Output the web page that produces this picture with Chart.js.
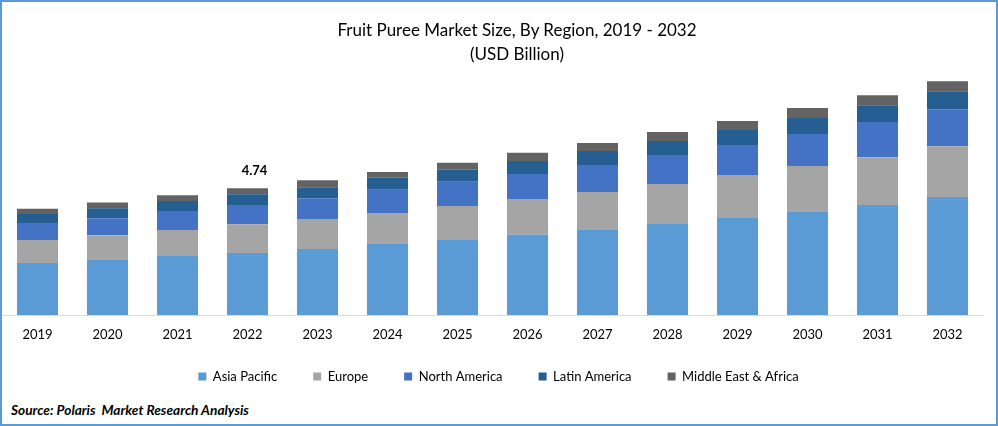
<!DOCTYPE html>
<html>
<head>
<meta charset="utf-8">
<title>Fruit Puree Market Size</title>
<script src="https://cdn.jsdelivr.net/npm/chart.js@4"></script>
<style>
    html, body { margin: 0; padding: 0; background: #fff; }
    #frame { position: relative; width: 998px; height: 426px; overflow: hidden; font-family: Lato, sans-serif; color: #000; }
    #border { position: absolute; inset: 0; border: 2px solid #5B9BD5; box-sizing: border-box; pointer-events: none; }
    canvas { position: absolute; left: 0; top: 0; }
    .title { position: absolute; left: 317px; width: 400px; text-align: center; font-size: 17px; line-height: 24px; white-space: nowrap; }
    #source { position: absolute; left: 11px; top: 402px; font-size: 13.7px; line-height: 16px; font-weight: bold; font-style: italic; white-space: pre; }
</style>
</head>
<body>
<div id="frame">
    <canvas id="chart" width="998" height="399"></canvas>
    <div class="title" style="top:18px">Fruit Puree Market Size, By Region, 2019 - 2032</div>
    <div class="title" style="top:42px">(USD Billion)</div>
    <div id="source">Source: Polaris  Market Research Analysis</div>
    <div id="border"></div>
</div>
<script>
// 数据
const years = ['2019', '2020', '2021', '2022', '2023', '2024', '2025', '2026', '2027', '2028', '2029', '2030', '2031', '2032'];
const asiaPacific = [1.94, 2.05, 2.20, 2.31, 2.46, 2.65, 2.80, 2.99, 3.17, 3.40, 3.62, 3.84, 4.10, 4.40];
const europe = [0.86, 0.93, 0.97, 1.08, 1.12, 1.16, 1.27, 1.34, 1.42, 1.49, 1.60, 1.72, 1.79, 1.90];
const northAmerica = [0.63, 0.63, 0.71, 0.71, 0.78, 0.86, 0.90, 0.93, 1.01, 1.08, 1.12, 1.19, 1.31, 1.38];
const latinAmerica = [0.34, 0.37, 0.37, 0.41, 0.41, 0.45, 0.45, 0.49, 0.52, 0.52, 0.56, 0.60, 0.63, 0.67];
const middleEast = [0.19, 0.22, 0.22, 0.22, 0.26, 0.22, 0.26, 0.30, 0.30, 0.34, 0.34, 0.37, 0.37, 0.37];
const calloutYear = '2022';
const calloutText = '4.74';

const fontFamily = 'Lato, sans-serif';

// 2022 柱顶的数值标注，并微调图例位置
const calloutPlugin = {
    id: 'callout',
    afterLayout(chart) {
        chart.legend.top -= 6;
        chart.legend.left += 6;
        chart.legend.right += 6;
    },
    afterDatasetsDraw(chart) {
        const { ctx, scales } = chart;
        ctx.save();
        ctx.font = `bold 13px ${fontFamily}`;
        ctx.fillStyle = '#000';
        ctx.textAlign = 'center';
        ctx.textBaseline = 'middle';
        ctx.fillText(calloutText, scales.x.getPixelForValue(years.indexOf(calloutYear)) + 7, scales.y.getPixelForValue(4.74) - 17);
        ctx.restore();
    }
};

new Chart(document.getElementById('chart').getContext('2d'), {
    type: 'bar',
    data: {
        labels: years,
        datasets: [
            { label: 'Asia Pacific', data: asiaPacific, backgroundColor: '#5B9BD5' },
            { label: 'Europe', data: europe, backgroundColor: '#A5A5A5' },
            { label: 'North America', data: northAmerica, backgroundColor: '#4472C4' },
            { label: 'Latin America', data: latinAmerica, backgroundColor: '#255E91' },
            { label: 'Middle East & Africa', data: middleEast, backgroundColor: '#636363' }
        ]
    },
    options: {
        responsive: false,
        animation: false,
        devicePixelRatio: 1,
        layout: { padding: { left: 2.5, right: 15.5, top: 60.4, bottom: 0 } },
        datasets: { bar: { barPercentage: 0.586, categoryPercentage: 1, borderWidth: 0 } },
        scales: {
            x: {
                stacked: true,
                grid: { display: false },
                border: { display: true, color: '#D9D9D9', width: 1 },
                ticks: { color: '#000', padding: 4, maxRotation: 0, font: { family: fontFamily, size: 13 } },
                afterFit(scale) { scale.height = 25; }
            },
            y: { stacked: true, display: false, min: 0, max: 9.5 }
        },
        plugins: {
            title: { display: false },
            tooltip: { enabled: false },
            legend: {
                position: 'bottom',
                labels: {
                    boxWidth: 8,
                    boxHeight: 8,
                    padding: 36,
                    color: '#000',
                    font: { family: fontFamily, size: 13 }
                }
            }
        }
    },
    plugins: [calloutPlugin]
});
</script>
</body>
</html>
